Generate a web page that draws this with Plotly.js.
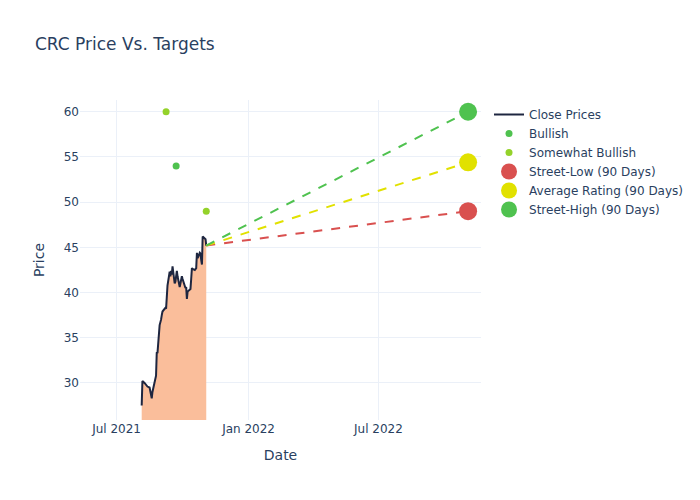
<!DOCTYPE html>
<html>
<head>
<meta charset="utf-8">
<script src="https://cdn.plot.ly/plotly-3.0.1.min.js"></script>
<style>
  body { margin: 0; }
  #chart { width: 700px; height: 500px; }
</style>
</head>
<body>
<div id="chart"></div>
<script>
// close prices, Aug 5 - Nov 3 2021
var priceDates = [
    '2021-08-05', '2021-08-06', '2021-08-09', '2021-08-10', '2021-08-11', '2021-08-12', '2021-08-13',
    '2021-08-16', '2021-08-17', '2021-08-18', '2021-08-19', '2021-08-20', '2021-08-23', '2021-08-24',
    '2021-08-25', '2021-08-26', '2021-08-27', '2021-08-30', '2021-08-31', '2021-09-01', '2021-09-02',
    '2021-09-03', '2021-09-07', '2021-09-08', '2021-09-09', '2021-09-10', '2021-09-13', '2021-09-14',
    '2021-09-15', '2021-09-16', '2021-09-17', '2021-09-20', '2021-09-21', '2021-09-22', '2021-09-23',
    '2021-09-24', '2021-09-27', '2021-09-28', '2021-09-29', '2021-09-30', '2021-10-01', '2021-10-04',
    '2021-10-05', '2021-10-06', '2021-10-07', '2021-10-08', '2021-10-11', '2021-10-12', '2021-10-13',
    '2021-10-14', '2021-10-15', '2021-10-18', '2021-10-19', '2021-10-20', '2021-10-21', '2021-10-22',
    '2021-10-25', '2021-10-26', '2021-10-27', '2021-10-28', '2021-10-29', '2021-11-01', '2021-11-02',
    '2021-11-03'
];
var closePrices = [
    27.5, 30.2, 30.0, 29.9, 29.8, 29.8, 29.6,
    29.5, 29.2, 28.8, 28.3, 29.0, 30.2, 30.4,
    30.8, 33.4, 33.3, 36.4, 36.6, 37.0, 37.5,
    37.9, 38.3, 38.2, 39.5, 40.8, 42.3, 41.8,
    42.4, 42.0, 42.9, 41.0, 41.2, 41.6, 42.4,
    41.8, 40.6, 41.0, 41.6, 41.8, 41.5, 40.8,
    40.5, 40.6, 39.3, 40.1, 40.3, 40.4, 41.5,
    42.7, 42.6, 42.5, 42.6, 42.7, 44.4, 43.8,
    44.4, 44.3, 43.6, 43.1, 46.2, 46.0, 45.9,
    45.2
];

// analyst ratings
var bullishDates = ['2021-09-22'];
var bullishTargets = [54];
var somewhatDates = ['2021-09-08', '2021-11-03'];
var somewhatTargets = [60, 49];

// 90-day targets, one year out
var targetStart = '2021-11-03';
var targetEnd = '2022-11-03';
var lastClose = 45.2;
var streetLow = 49;
var avgRating = 54.4;
var streetHigh = 60;

var green = '#4fc24f';
var yellowGreen = '#94d22a';
var red = '#d9504f';
var yellow = '#e1e100';
var grid = '#ebf0f8';

var traces = [
    {
        x: priceDates, y: closePrices, showlegend: false, hoverinfo: 'skip',
        type: 'scatter', mode: 'lines',
        line: { width: 0 },
        fill: 'tozeroy', fillcolor: 'rgb(250,190,155)'
    },
    {
        x: priceDates, y: closePrices, name: 'Close Prices',
        type: 'scatter', mode: 'lines',
        line: { color: '#1e2640', width: 2 }
    },
    {
        x: bullishDates, y: bullishTargets, name: 'Bullish',
        type: 'scatter', mode: 'markers',
        marker: { color: green, size: 7 }
    },
    {
        x: somewhatDates, y: somewhatTargets, name: 'Somewhat Bullish',
        type: 'scatter', mode: 'markers',
        marker: { color: yellowGreen, size: 7 }
    },
    {
        x: [targetStart, targetEnd], y: [lastClose, streetLow],
        type: 'scatter', mode: 'lines', showlegend: false,
        line: { color: red, dash: 'dash', width: 2 }
    },
    {
        x: [targetStart, targetEnd], y: [lastClose, avgRating],
        type: 'scatter', mode: 'lines', showlegend: false,
        line: { color: yellow, dash: 'dash', width: 2 }
    },
    {
        x: [targetStart, targetEnd], y: [lastClose, streetHigh],
        type: 'scatter', mode: 'lines', showlegend: false,
        line: { color: green, dash: 'dash', width: 2 }
    },
    {
        x: [targetEnd], y: [streetLow], name: 'Street-Low (90 Days)',
        type: 'scatter', mode: 'markers',
        marker: { color: red, size: 18 }
    },
    {
        x: [targetEnd], y: [avgRating], name: 'Average Rating (90 Days)',
        type: 'scatter', mode: 'markers',
        marker: { color: yellow, size: 18 }
    },
    {
        x: [targetEnd], y: [streetHigh], name: 'Street-High (90 Days)',
        type: 'scatter', mode: 'markers',
        marker: { color: green, size: 18 }
    }
];

var layout = {
    width: 700,
    height: 500,
    font: { family: 'DejaVu Sans', color: '#2a3f5f', size: 12 },
    title: { text: 'CRC Price Vs. Targets', x: 0.05, font: { size: 17 } },
    xaxis: {
        title: { text: 'Date', standoff: 15 },
        automargin: true,
        range: ['2021-05-11', '2022-11-21'],
        tick0: '2021-01-01', dtick: 'M6', tickformat: '%b %Y',
        gridcolor: grid, zeroline: false
    },
    yaxis: {
        title: { text: 'Price', standoff: 15 },
        automargin: true,
        range: [25.9, 61.3],
        dtick: 5,
        gridcolor: grid, zeroline: false
    },
    paper_bgcolor: 'white',
    plot_bgcolor: 'white'
};

Plotly.newPlot('chart', traces, layout, { displayModeBar: false });
</script>
</body>
</html>
